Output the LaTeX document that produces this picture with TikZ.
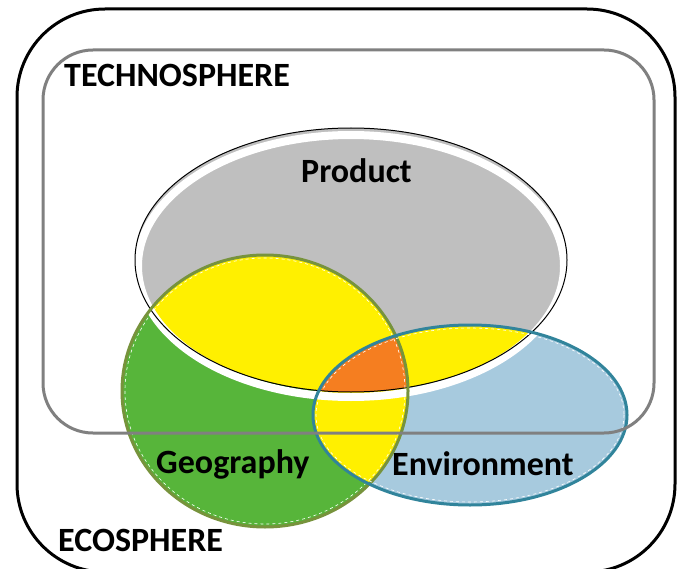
\documentclass[tikz,border=0pt]{standalone}
\usepackage{fontspec}
\setmainfont{Carlito}
\definecolor{prodgray}{RGB}{191,191,191}
\definecolor{geogreen}{RGB}{87,181,58}
\definecolor{geoline}{RGB}{119,147,60}
\definecolor{envblue}{RGB}{167,202,222}
\definecolor{envline}{RGB}{49,132,155}
\definecolor{ovyellow}{RGB}{255,240,0}
\definecolor{ovorange}{RGB}{245,126,32}
\definecolor{ovedge}{RGB}{255,200,40}
\definecolor{techgray}{RGB}{128,128,128}
\tikzset{
  lbl/.style={font=\bfseries\fontsize{34}{38}\selectfont, text=black, inner sep=0pt, anchor=base west},
  ovl/.style={fill=ovyellow, draw=ovedge, line width=1pt},
}
\begin{document}
\begin{tikzpicture}[x=1pt,y=-1pt]
\useasboundingbox (0,0) rectangle (679,569);
\fill[white] (0,0) rectangle (679,569);
% outer ecosphere
\draw[line width=3pt, rounded corners=88pt] (17,9) rectangle (675,572);
% shapes
\def\prodpath{(351,260) ellipse [x radius=216, y radius=132]}
\def\geopath{(265,391) ellipse [x radius=143, y radius=136]}
\def\envpath{(470,415) ellipse [x radius=157, y radius=90]}
\fill[prodgray] \prodpath;
\fill[geogreen] \geopath;
\fill[envblue] \envpath;
\begin{scope}
  \clip \prodpath;
  \path[ovl] \geopath;
  \path[ovl] \envpath;
\end{scope}
\begin{scope}
  \clip \geopath;
  \path[ovl] \envpath;
\end{scope}
\begin{scope}
  \clip \prodpath;
  \clip \geopath;
  \fill[ovorange] \envpath;
\end{scope}
% outlines
\draw[white, line width=8pt] (351,266) ellipse [x radius=213, y radius=131];
\draw[black, line width=1pt] \prodpath;
\draw[white, dashed, line width=0.6pt] (265,391) ellipse [x radius=140, y radius=133];
\draw[geoline, line width=3pt] \geopath;
\draw[white, dashed, line width=0.6pt] (470,415) ellipse [x radius=154, y radius=87];
\draw[envline, line width=3pt] \envpath;
% technosphere
\draw[techgray, line width=3pt, rounded corners=50pt] (43,50) rectangle (654,433);
% labels
\node[lbl] (tech) at (64,87) {TECHNOSPHERE};
\node[lbl] (eco) at (58,551) {ECOSPHERE};
\node[lbl] (prod) at (301,183) {Product};
\node[lbl] (geo) at (156,473) {Geography};
\node[lbl] (env) at (392,475) {Environment};
\end{tikzpicture}
\end{document}
